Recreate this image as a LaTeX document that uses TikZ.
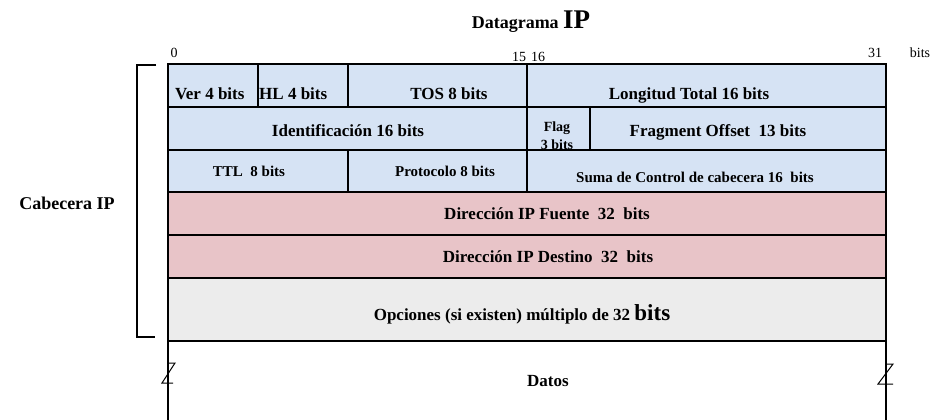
\documentclass[tikz,border=0pt]{standalone}
\usepackage{fontspec}
\setmainfont{Liberation Serif}
\definecolor{cellblue}{RGB}{214,227,244}
\definecolor{cellpink}{RGB}{232,196,200}
\definecolor{cellgray}{RGB}{236,236,236}
\newcommand{\fs}[1]{\fontsize{#1}{#1}\selectfont}
\tikzset{
  grid/.style={line width=2pt, line cap=rect},
  thin line/.style={line width=1.3pt},
  zig/.style={line width=1pt},
  lbl/.style={anchor=base, inner sep=0pt, font=\bfseries\fs{17}},
  lblsm/.style={anchor=base, inner sep=0pt, font=\bfseries\fs{15}},
  bitnum/.style={anchor=base, inner sep=0pt, font=\fs{14}},
}
\begin{document}
\begin{tikzpicture}[x=1pt,y=-1pt]
\useasboundingbox (0,0) rectangle (931,420);
% fills
\fill[cellblue] (168,64) rectangle (886,192);
\fill[cellpink] (168,192) rectangle (886,278);
\fill[cellgray] (168,278) rectangle (886,341);
% title
\node[anchor=base, inner sep=0pt] (title) at (531,29) {\bfseries\fs{18}Datagrama \fs{27}IP};
% bit numbers
\node[bitnum] (b0) at (174,57) {0};
\node[bitnum] (b15) at (519,61) {15};
\node[bitnum] (b16) at (538,61) {16};
\node[bitnum] (b31) at (875,58) {31};
\node[bitnum] (bits) at (920,58) {bits};
% row 1
\node[lbl, anchor=base west] (ver) at (175,99) {Ver 4 bits};
\node[lbl, anchor=base west] (hl) at (259,99) {HL 4 bits};
\node[lbl] (tos) at (449,99) {TOS 8 bits};
\node[lbl] (len) at (689,99) {Longitud Total 16 bits};
% row 2
\node[lbl] (ident) at (348,136) {Identificación 16 bits};
\node[anchor=base, inner sep=0pt, font=\bfseries\fs{14}] (flag) at (557,131) {Flag};
\node[anchor=base, inner sep=0pt, font=\bfseries\fs{14}] (flagb) at (557,149.5) {3 bits};
\node[lbl] (frag) at (718,136) {Fragment Offset\ \ 13 bits};
% row 3
\node[lblsm] (ttl) at (249,176) {TTL\ \ 8 bits};
\node[lblsm] (proto) at (445,176) {Protocolo 8 bits};
\node[lblsm] (suma) at (695,182) {Suma de Control de cabecera 16\ \ bits};
% rows 4-6
\node[lbl] (src) at (547,219) {Dirección IP Fuente\ \ 32\ \ bits};
\node[lbl] (dst) at (548,262) {Dirección IP Destino\ \ 32\ \ bits};
\node[lbl] (opt) at (522,320) {Opciones (si existen) múltiplo de 32 {\fs{23}bits}};
\node[lbl, anchor=base west] (datos) at (527,386) {Datos};
% header label
\node[anchor=center, inner sep=0pt, font=\bfseries\fs{18}] (cab) at (67,203) {Cabecera IP};
% grid lines
\draw[grid] (168,64) rectangle (886,341);
\foreach \y in {107,150,192,235,278} \draw[grid] (168,\y) -- (886,\y);
\draw[grid] (258,64) -- (258,107);
\draw[grid] (348,64) -- (348,107);
\draw[grid] (527,64) -- (527,192);
\draw[grid] (590,107) -- (590,150);
\draw[grid] (348,150) -- (348,192);
% bracket
\draw[thin line] (156,65) -- (137,65) -- (137,337) -- (155,337);
% datos sides
\draw[thin line] (168,341) -- (168,420);
\draw[thin line] (886,341) -- (886,420);
\draw[zig] (168,363) -- (175,363) -- (162,383) -- (173,383);
\draw[zig] (886,364) -- (893,364) -- (878,384) -- (893,384);
\end{tikzpicture}
\end{document}
